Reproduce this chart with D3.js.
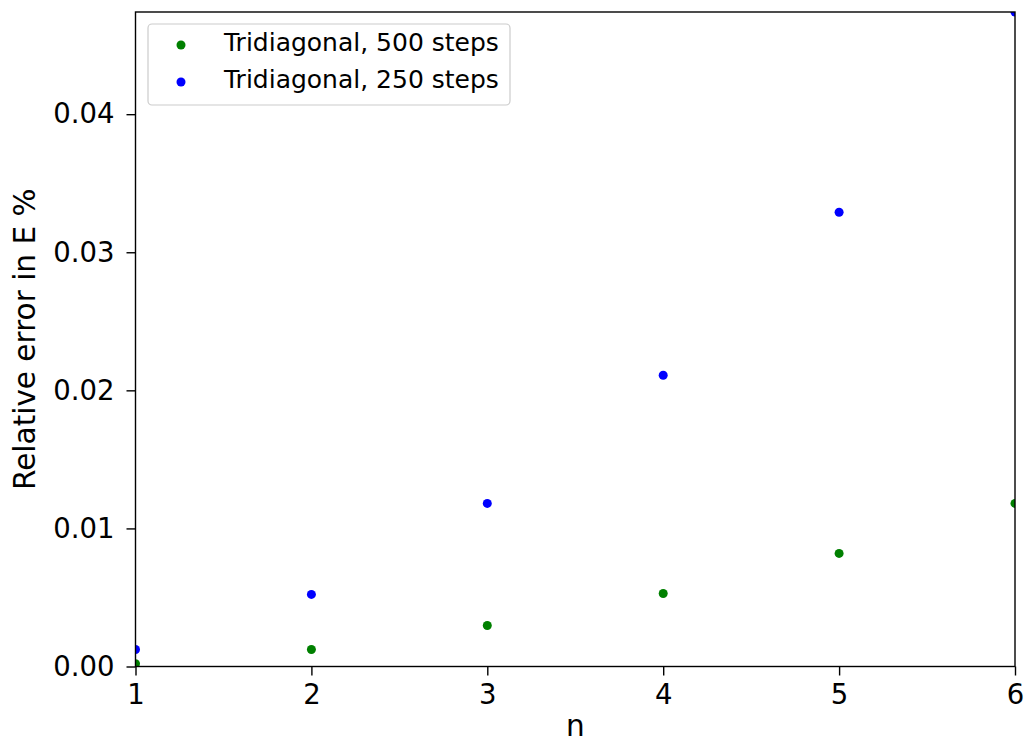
<!DOCTYPE html>
<html>
<head>
<meta charset="utf-8">
<script src="https://cdn.jsdelivr.net/npm/d3@7"></script>
<style>
  body { margin: 0; background: #fff; }
  svg text { font-family: "DejaVu Sans", sans-serif; fill: #000; }
</style>
</head>
<body>
<svg id="chart" width="1024" height="744"></svg>
<script>
// Quantum number n on the x axis
const nValues = [1, 2, 3, 4, 5, 6];
// Relative error in the energy (%) for each grid size
const err500 = [0.0002, 0.00123, 0.00297, 0.00529, 0.00819, 0.01181];
const err250 = [0.00123, 0.00522, 0.01181, 0.02109, 0.0329, 0.0474];
const xTicks = [1, 2, 3, 4, 5, 6];
const yTicks = [0.00, 0.01, 0.02, 0.03, 0.04];
const seriesNames = ["Tridiagonal, 500 steps", "Tridiagonal, 250 steps"];
const seriesColors = ["#008000", "#0000ff"];

const svg = d3.select("#chart");
const plotL = 135.5, plotR = 1015, plotT = 12, plotB = 666.5;

const x = d3.scaleLinear().domain([1, 6]).range([plotL, plotR]);
const y = d3.scaleLinear().domain([0, d3.max(err250)]).range([plotB, plotT]);

svg.append("defs").append("clipPath").attr("id", "plot-clip")
  .append("rect").attr("x", plotL).attr("y", plotT)
  .attr("width", plotR - plotL).attr("height", plotB - plotT);

// Scatter points, clipped to the axes area
const series = [err500, err250];
const pts = svg.append("g").attr("clip-path", "url(#plot-clip)");
series.forEach((vals, i) => {
  pts.selectAll(null).data(vals).enter().append("circle")
    .attr("cx", (d, j) => x(nValues[j]))
    .attr("cy", d => y(d))
    .attr("r", 4.5)
    .attr("fill", seriesColors[i]);
});

// Axes
const xAxis = d3.axisBottom(x).tickValues(xTicks).tickFormat(d3.format("d"))
  .tickSize(9).tickPadding(9);
const yAxis = d3.axisLeft(y).tickValues(yTicks).tickFormat(d3.format(".2f"))
  .tickSize(9).tickPadding(12);

const gx = svg.append("g").attr("transform", `translate(0,${plotB})`).call(xAxis);
const gy = svg.append("g").attr("transform", `translate(${plotL},0)`).call(yAxis);
[gx, gy].forEach(g => {
  g.select(".domain").remove();
  g.selectAll(".tick line").attr("stroke", "#000").attr("stroke-width", 1.4);
  g.selectAll(".tick text").attr("font-size", 27.5).attr("fill", "#000");
});

// Frame
svg.append("rect").attr("x", plotL).attr("y", plotT)
  .attr("width", plotR - plotL).attr("height", plotB - plotT)
  .attr("fill", "none").attr("stroke", "#000").attr("stroke-width", 1.4);

// Axis labels
svg.append("text").attr("x", (plotL + plotR) / 2).attr("y", 736)
  .attr("text-anchor", "middle").attr("font-size", 29.5).text("n");
svg.append("text")
  .attr("transform", `translate(35,${(plotT + plotB) / 2}) rotate(-90)`)
  .attr("text-anchor", "middle").attr("font-size", 29.5).text("Relative error in E %");

// Legend
const lg = svg.append("g");
lg.append("rect").attr("x", 148).attr("y", 24).attr("width", 362).attr("height", 81)
  .attr("rx", 4).attr("fill", "#fff").attr("fill-opacity", 0.8)
  .attr("stroke", "#cccccc").attr("stroke-width", 1.2);
seriesNames.forEach((name, i) => {
  const yy = 45 + i * 37;
  lg.append("circle").attr("cx", 181).attr("cy", yy).attr("r", 4.5).attr("fill", seriesColors[i]);
  lg.append("text").attr("x", 224).attr("y", yy + 6).attr("font-size", 25).text(name);
});
</script>
</body>
</html>
